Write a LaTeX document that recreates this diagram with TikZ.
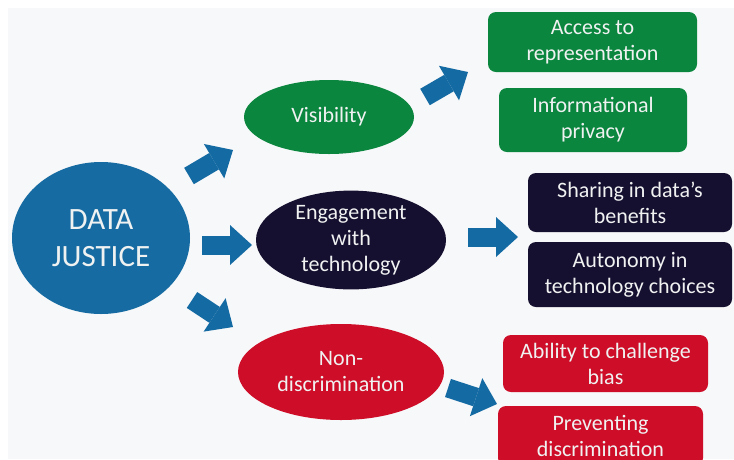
\documentclass[tikz,border=0pt]{standalone}
\usepackage{fontspec}
\setmainfont{Carlito}
\usetikzlibrary{shapes.geometric,arrows.meta}
\definecolor{bgc}{RGB}{247,248,249}
\definecolor{djblue}{RGB}{22,107,162}
\definecolor{arrblue}{RGB}{20,106,163}
\definecolor{jgreen}{RGB}{10,134,62}
\definecolor{jnavy}{RGB}{22,16,48}
\definecolor{jred}{RGB}{206,14,40}
\definecolor{txt}{RGB}{240,242,242}
\tikzset{
  ell/.style={ellipse, inner sep=0pt, text=txt, align=center,
    font=\fontsize{22}{26}\selectfont},
  rbox/.style={rectangle, rounded corners=8pt, inner sep=0pt, text=txt,
    align=center, font=\fontsize{22}{26}\selectfont},
  blockarrow/.style={draw=arrblue, line width=19pt,
    -{Triangle[width=40pt,length=22pt,line width=0pt,fill=arrblue]}}
}
\begin{document}
\begin{tikzpicture}[x=1pt,y=-1pt]
\useasboundingbox (0,0) rectangle (734,459);
\clip (0,0) rectangle (734,459);
\fill[white] (0,0) rectangle (734,459);
\fill[bgc] (8,8) rectangle (734,459);

% ellipses
\node[ell, fill=djblue, minimum width=178pt, minimum height=152pt,
  font=\fontsize{31}{37}\selectfont] (dj) at (101,238) {DATA\\JUSTICE};
\node[ell, fill=jgreen, minimum width=170pt, minimum height=74pt] (vis) at (329,117) {Visibility};
\node[ell, fill=jnavy, minimum width=190pt, minimum height=96pt] (eng) at (351,240) {Engagement\\with\\technology};
\node[ell, fill=jred, minimum width=206pt, minimum height=96pt] (non) at (341,372) {Non-\\discrimination};

% boxes
\node[rbox, fill=jgreen, minimum width=209pt, minimum height=60pt] (acc) at (592.5,42) {Access to\\representation};
\node[rbox, fill=jgreen, minimum width=188pt, minimum height=64pt] (inf) at (593,120) {Informational\\privacy};
\node[rbox, fill=jnavy, minimum width=204pt, minimum height=59pt] (sha) at (630,202.5) {Sharing in data’s\\benefits};
\node[rbox, fill=jnavy, minimum width=204pt, minimum height=65pt] (aut) at (630,274.5) {Autonomy in\\technology choices};
\node[rbox, fill=jred, minimum width=205pt, minimum height=57pt] (abi) at (605.5,363.5) {Ability to challenge\\bias};
\node[rbox, fill=jred, minimum width=205pt, minimum height=60pt] (pre) at (600.5,436) {Preventing\\discrimination};

% arrow end points
\coordinate (a1s) at (189,176); \coordinate (a1e) at (233,150);
\coordinate (a2s) at (202,245); \coordinate (a2e) at (252,245);
\coordinate (a3s) at (192,300); \coordinate (a3e) at (233,327);
\coordinate (a4s) at (425,97);  \coordinate (a4e) at (468,72);
\coordinate (a5s) at (468,237); \coordinate (a5e) at (518,237);
\coordinate (a6s) at (448,388); \coordinate (a6e) at (497,404);

\draw[blockarrow] (a1s) -- (a1e);
\draw[blockarrow] (a2s) -- (a2e);
\draw[blockarrow] (a3s) -- (a3e);
\draw[blockarrow] (a4s) -- (a4e);
\draw[blockarrow] (a5s) -- (a5e);
\draw[blockarrow] (a6s) -- (a6e);
\end{tikzpicture}
\end{document}
